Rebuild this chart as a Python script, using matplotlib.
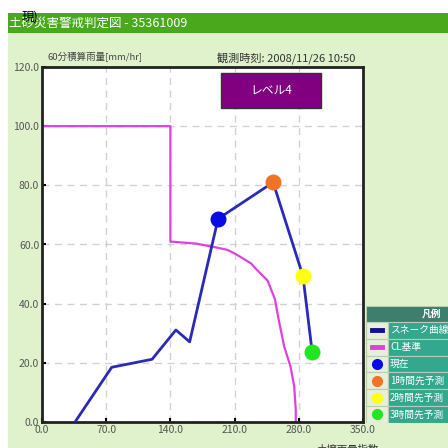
import matplotlib
matplotlib.use("Agg")
import matplotlib.pyplot as plt
from matplotlib.patches import Rectangle

plt.rcParams['font.family'] = ['Noto Sans CJK JP', 'DejaVu Sans']

# snake curve (soil water index vs 60-min rainfall), current point is the last one
snake_x = [36, 76, 120, 146, 161, 192]
snake_y = [0, 18.5, 21.2, 31.1, 27.1, 68.7]

# forecast: now, +1h, +2h, +3h
pred_x = [192, 252, 284.5, 294.6]
pred_y = [68.7, 81, 49.4, 23.6]
pred_colors = ['#0a0ae6', '#f07423', '#ffff10', '#22e622']

# CL criterion line
cl_x = [0, 140, 140, 168, 190, 202, 211, 228, 234, 246, 254, 258, 264, 271, 275, 276.7, 276.7]
cl_y = [100, 100, 61, 60.3, 59, 58.2, 56.8, 53.6, 51.5, 47.8, 41.5, 34.7, 25.6, 18.7, 12, 4, 0]

xticks = [0, 70, 140, 210, 280, 350]
yticks = [0, 20, 40, 60, 80, 100, 120]

legend_labels = ['スネーク曲線', 'CL基準', '現在', '1時間先予測', '2時間先予測', '3時間先予測']

W = H = 448.0

fig = plt.figure(figsize=(4.48, 4.48), dpi=100)
fig.patch.set_facecolor('white')

# background panels drawn in a full-figure axes behind everything
bg = fig.add_axes([0, 0, 1, 1], zorder=-10)
bg.set_xlim(0, W)
bg.set_ylim(H, 0)
bg.axis('off')
bg.add_patch(Rectangle((8, 33), 440, 415, facecolor='#e0f2cc', edgecolor='none'))
bg.add_patch(Rectangle((8, 13), 440, 20, facecolor='#4aa81c', edgecolor='none'))
bg.text(9, 23, '土砂災害警戒判定図 - 35361009', color='white', fontsize=9,
        va='center', ha='left')
bg.text(22, 17, '現)', color='black', fontsize=9, va='center', ha='left')
bg.text(48, 57, '60分積算雨量[mm/hr]', color='#444444', fontsize=6.8, va='center')
bg.text(217, 58, '観測時刻: 2008/11/26 10:50', color='#333333', fontsize=8, va='center')
bg.text(348, 450, '土壌雨量指数', color='#333333', fontsize=7.5, ha='center', va='center')

# main chart
ax = fig.add_axes([42 / W, 1 - 422 / H, 321 / W, 355 / H], zorder=2)
ax.set_facecolor('white')
ax.set_xlim(0, 350)
ax.set_ylim(0, 120)
ax.set_xticks(xticks)
ax.set_yticks(yticks)
ax.set_xticklabels([f'{v:.1f}' for v in xticks])
ax.set_yticklabels([f'{v:.1f}' for v in yticks])
ax.tick_params(direction='in', length=3, width=1.5, labelsize=7.5, labelcolor='#555555', pad=2)
ax.grid(True, linestyle=(0, (5, 4)), color='#d2d2d2', linewidth=1)
ax.set_axisbelow(True)
for s in ax.spines.values():
    s.set_linewidth(2)
    s.set_color('#222222')

ax.plot(cl_x, cl_y, color='#e040e0', linewidth=1.6, zorder=2)
ax.plot(snake_x, snake_y, color='#2a2ab8', linewidth=2, zorder=3)
ax.plot(pred_x, pred_y, color='#2a2ab8', linewidth=2, zorder=3)
for x, y, c in zip(pred_x, pred_y, pred_colors):
    ax.plot(x, y, 'o', color=c, markersize=10.5, zorder=4)

# level box
ax.add_patch(Rectangle((195, 106), 109, 12, facecolor='#800080',
                       edgecolor='#333333', lw=1, zorder=5))
ax.text(249.5, 112, 'レベル4', color='white', fontsize=8.5, ha='center', va='center',
        fontstyle='italic', zorder=6)

# legend table
lax = fig.add_axes([366 / W, 1 - 423 / H, 82 / W, 117 / H], zorder=3)
lax.set_xlim(0, 82)
lax.set_ylim(117, 0)
lax.axis('off')
lax.add_patch(Rectangle((0, 0), 90, 16, facecolor='#3e7e6c', edgecolor='#b8ccb0', lw=0.8))
lax.text(66, 8, '凡例', color='white', fontsize=7, fontweight='bold', ha='center', va='center')
row_h = 16.8
for i, lab in enumerate(legend_labels):
    y0 = 16 + i * row_h
    yc = y0 + row_h / 2
    lax.add_patch(Rectangle((0, y0), 22, row_h, facecolor='#e6efd8', edgecolor='#b8ccb0', lw=0.8))
    lax.add_patch(Rectangle((22, y0), 70, row_h, facecolor='#34a88e', edgecolor='#b8ccb0', lw=0.8))
    lax.text(24, yc, lab, color='white', fontsize=7, ha='left', va='center')
    if i == 0:
        lax.plot([6, 16], [yc, yc], color='#101090', lw=3.5)
    elif i == 1:
        lax.plot([6, 16], [yc, yc], color='#e040e0', lw=3.5)
    else:
        lax.plot(11, yc, 'o', color=pred_colors[i - 2], markersize=7)

fig.savefig('out.png', dpi=100)
